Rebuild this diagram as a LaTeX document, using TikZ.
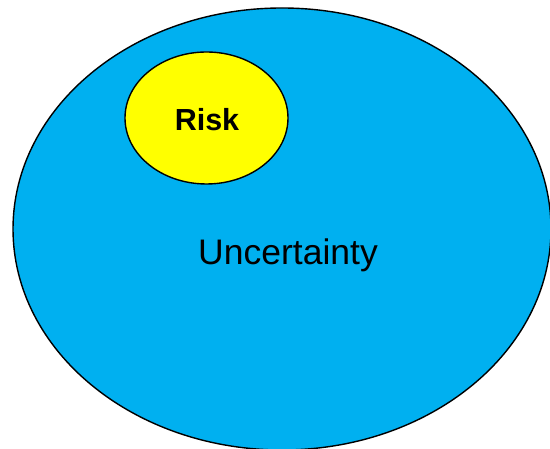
\documentclass[tikz,border=0pt]{standalone}
\usepackage{fontspec}
\setmainfont{Liberation Sans}
\usetikzlibrary{
    shapes.geometric,
    positioning
}
\definecolor{uncblue}{HTML}{00B0F0}
\definecolor{riskyellow}{HTML}{FFFF00}
\tikzset{
    blob/.style={ellipse, draw=black, line width=1.4pt, inner sep=0pt}
}

\begin{document}
\begin{tikzpicture}[x=1pt, y=1pt]
                                \useasboundingbox (0, 0) rectangle (550, 449);
                                \node[blob, fill=uncblue, minimum width=538pt, minimum height=442pt] (unc) at (282, 220) {};
                                \node[blob, fill=riskyellow, minimum width=163pt, minimum height=132pt] (risk) at (206.5, 331) {};
                                \node[font=\fontsize{30.5}{36}\selectfont\bfseries] (risklbl) at (207, 329) {Risk};
                                \node[font=\fontsize{35.5}{42}\selectfont] (unclbl) at (288, 194) {Uncertainty};
                            \end{tikzpicture}
\end{document}
